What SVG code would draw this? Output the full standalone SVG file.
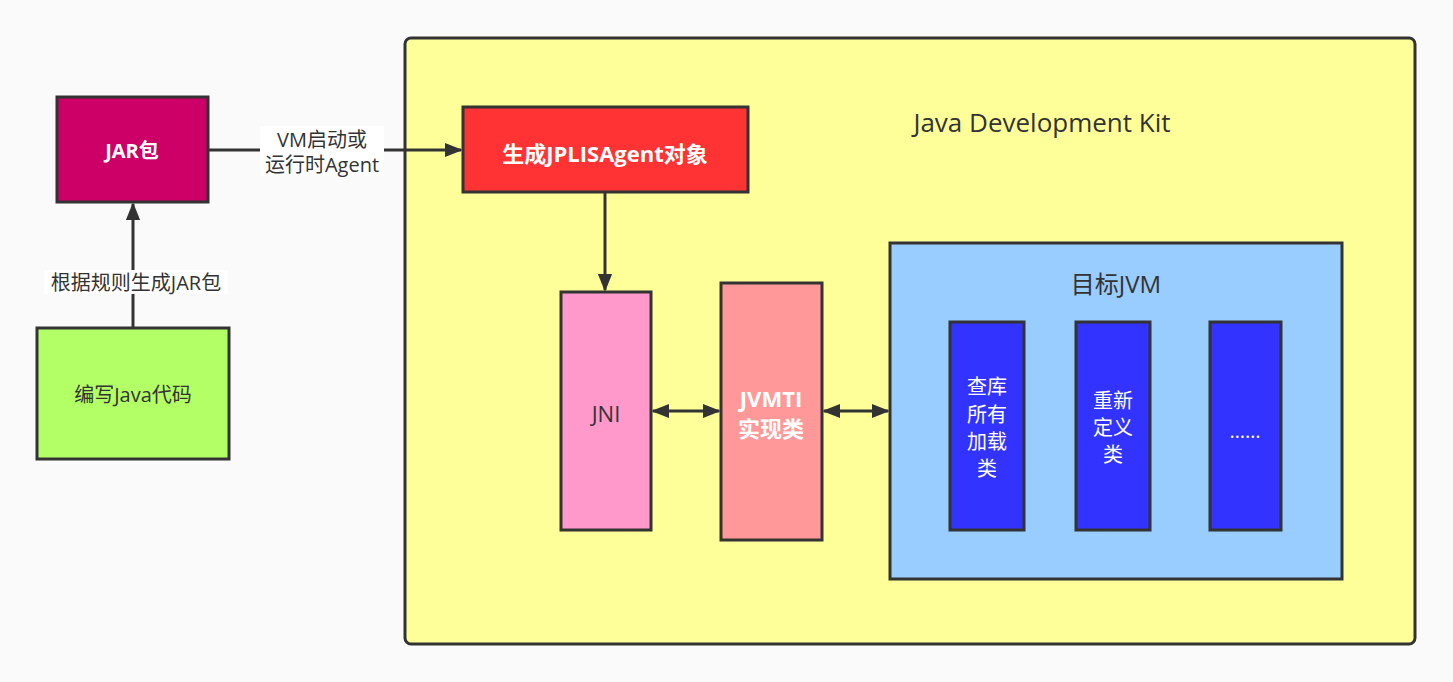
<svg xmlns="http://www.w3.org/2000/svg" width="1453" height="682" viewBox="0 0 1453 682">
<defs>
<style>
text{font-family:"Open Sans","Noto Sans CJK SC",sans-serif;font-size:20px;fill:#333;text-anchor:middle;dominant-baseline:central}
.n{stroke:#333;stroke-width:3}
.w{fill:#fff;font-weight:bold}
.c{stroke:#333;stroke-width:3;fill:none}
</style>
<marker id="a" viewBox="0 0 10 10" refX="9" refY="5" markerWidth="6" markerHeight="6" orient="auto-start-reverse"><path d="M0,1 L10,5 L0,9 z" fill="#333"/></marker>
</defs>
<rect width="1453" height="682" fill="#fafafa"/>
<g id="jdk"><rect class="n" x="405" y="38" width="1010" height="606" rx="6" fill="#ffff99"/><text x="1042" y="122" style="font-size:26px">Java Development Kit</text></g>
<g id="jar"><rect class="n" x="57" y="97" width="151" height="105" fill="#cc0066"/><text class="w" x="132" y="150">JAR包</text></g>
<g id="code"><rect class="n" x="37" y="328" width="192" height="131" fill="#b3ff66"/><text x="133" y="394">编写Java代码</text></g>
<g id="gen"><rect class="n" x="463" y="107" width="285" height="85" fill="#ff3333"/><text class="w" x="605" y="153" style="font-size:22px">生成JPLISAgent对象</text></g>
<g id="jni"><rect class="n" x="561" y="292" width="90" height="238" fill="#ff99cc"/><text x="606" y="413" style="font-size:22px">JNI</text></g>
<g id="jvmti"><rect class="n" x="721" y="283" width="101" height="257" fill="#ff9999"/><text class="w" x="771" y="398" style="font-size:22px">JVMTI</text><text class="w" x="771" y="428" style="font-size:22px">实现类</text></g>
<g id="jvm"><rect class="n" x="890" y="243" width="452" height="336" fill="#99ccff"/><text x="1116" y="283" style="font-size:24px">目标JVM</text></g>
<g id="b1"><rect class="n" x="950" y="322" width="74" height="208" fill="#3333ff"/><text x="987" y="386" style="fill:#fff">查库</text><text x="987" y="414" style="fill:#fff">所有</text><text x="987" y="441" style="fill:#fff">加载</text><text x="987" y="468" style="fill:#fff">类</text></g>
<g id="b2"><rect class="n" x="1076" y="322" width="74" height="208" fill="#3333ff"/><text x="1113" y="400" style="fill:#fff">重新</text><text x="1113" y="427" style="fill:#fff">定义</text><text x="1113" y="454" style="fill:#fff">类</text></g>
<g id="b3"><rect class="n" x="1210" y="322" width="71" height="208" fill="#3333ff"/><text x="1245" y="430" style="fill:#fff">……</text></g>
<g id="connectors">
<path class="c" d="M133,328 V204" marker-end="url(#a)"/>
<rect x="44" y="270" width="184" height="24" fill="#fff"/><text x="136" y="282">根据规则生成JAR包</text>
<path class="c" d="M208,150 H461" marker-end="url(#a)"/>
<rect x="260" y="126" width="124" height="50" fill="#fff"/><text x="322" y="139">VM启动或</text><text x="322" y="164">运行时Agent</text>
<path class="c" d="M605,192 V290" marker-end="url(#a)"/>
<path class="c" d="M653,411 H719" marker-start="url(#a)" marker-end="url(#a)"/>
<path class="c" d="M824,411 H888" marker-start="url(#a)" marker-end="url(#a)"/>
</g>
</svg>
